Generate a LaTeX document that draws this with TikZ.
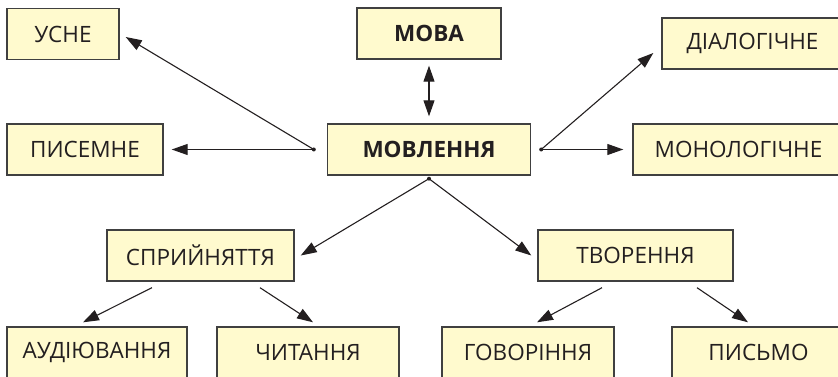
\documentclass[tikz,border=0pt]{standalone}
\usepackage{fontspec}
\setmainfont{Open Sans}
\usetikzlibrary{arrows.meta}
\definecolor{boxfill}{RGB}{255,250,206}
\definecolor{boxline}{RGB}{64,64,64}
\definecolor{ink}{RGB}{35,31,32}
\tikzset{
    box/.style={draw=boxline,line width=1.4pt,fill=boxfill,text=ink,
        minimum height=51pt,inner sep=0pt,font=\fontsize{22.5}{26}\selectfont},
    arr/.style={ink,line width=1.1pt,-{Triangle[length=16pt,width=11pt]}},
    dot/.style={ink,fill=ink}
}
\begin{document}
\begin{tikzpicture}[x=1pt,y=1pt]
    \useasboundingbox (0,0) rectangle (838,377);
    \clip (0,0) rectangle (838,377);
    % Top level
    \node[box,minimum width=144pt,font=\fontsize{22.5}{26}\selectfont\bfseries] (mova) at (429,343.5) {МОВА};
    \node[box,minimum width=203pt,font=\fontsize{22.5}{26}\selectfont\bfseries] (movl) at (429,227.5) {МОВЛЕННЯ};
    % Side boxes
    \foreach \n/\x/\y/\w/\t in {usne/63/343/112/УСНЕ,pysm/85/227.5/156/ПИСЕМНЕ,
        dial/752.5/333.5/181/ДІАЛОГІЧНЕ,mono/738.5/227.5/211/МОНОЛОГІЧНЕ,
        spr/200.5/121.5/187/СПРИЙНЯТТЯ,tvor/635.5/121.5/195/ТВОРЕННЯ}
        \node[box,minimum width=\w pt] (\n) at (\x,\y) {\t};
    % Bottom row
    \foreach \n/\x/\w/\t in {aud/97/180/АУДІЮВАННЯ,chyt/308/182/ЧИТАННЯ,
        hovor/528/172/ГОВОРІННЯ,pysmo/758.5/173/ПИСЬМО}
        \node[box,minimum width=\w pt] (\n) at (\x,24.5) {\t};
    % Branch points
    \coordinate (dl) at ([xshift=-13pt]movl.west);
    \coordinate (dr) at ([xshift=10pt]movl.east);
    \coordinate (db) at ([yshift=-3pt]movl.south);
    \foreach \c in {dl,dr,db}
        \fill[dot] (\c) circle (2pt);
    % Connectors
    \draw[arr,{Triangle[length=16pt,width=11pt]}-{Triangle[length=16pt,width=11pt]}]
        ([yshift=-6pt]mova.south) -- ([yshift=7pt]movl.north);
    \draw[arr] (dl) -- ([xshift=6pt,yshift=-3pt]usne.east);
    \draw[arr] (dl) -- ([xshift=8pt]pysm.east);
    \draw[arr] (dr) -- ([xshift=-8pt,yshift=-9.5pt]dial.west);
    \draw[arr] (dr) -- ([xshift=-9pt]mono.west);
    \draw[arr] (db) -- ([xshift=6pt]spr.east);
    \draw[arr] (db) -- ([xshift=-6pt]tvor.west);
    \draw[arr] ([xshift=-48.5pt,yshift=-6pt]spr.south) -- ([xshift=-14pt,yshift=4pt]aud.north);
    \draw[arr] ([xshift=59.5pt,yshift=-6pt]spr.south) -- ([xshift=5pt,yshift=4pt]chyt.north);
    \draw[arr] ([xshift=-33.5pt,yshift=-6pt]tvor.south) -- ([xshift=9pt,yshift=4pt]hovor.north);
    \draw[arr] ([xshift=61.5pt,yshift=-6pt]tvor.south) -- ([xshift=-10.5pt,yshift=4pt]pysmo.north);
\end{tikzpicture}
\end{document}
